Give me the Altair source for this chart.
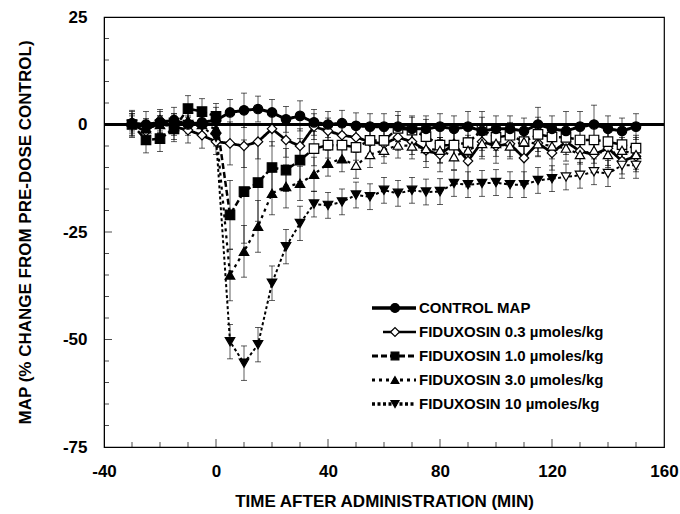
import altair as alt
import pandas as pd

times = list(range(-30, 155, 5))

series_names = [
    "CONTROL MAP",
    "FIDUXOSIN 0.3 µmoles/kg",
    "FIDUXOSIN 1.0 µmoles/kg",
    "FIDUXOSIN 3.0 µmoles/kg",
    "FIDUXOSIN 10 µmoles/kg",
]

control = [0.3, 0.0, 0.5, 1.0, 0.0, 0.5, 1.0,
           2.8, 3.3, 3.6, 2.8, 1.2, 2.0, 0.5, 0.0, 0.3, -0.3,
           -0.5, -0.5, -0.5, -1.0, -1.0, -0.5, -1.0, -0.5, -1.5, -1.0,
           -1.0, -1.5, 0.0, -1.0, -1.5, -0.5, 0.0, -1.0, -1.5, -0.5]
dose03 = [0.0, -1.6, 1.0, -0.5, -1.3, -2.5, -4.0,
          -4.4, -5.0, -4.0, -1.0, -3.6, -5.0, -0.5, -1.5, -2.5, -3.0,
          -4.0, -4.5, -3.0, -4.0, -6.0, -7.0, -4.5, -8.5, -4.0, -5.0,
          -4.5, -7.8, -4.3, -6.6, -4.0, -6.2, -7.0, -5.5, -8.5, -7.4]
dose10 = [0.0, -3.6, -3.3, -1.0, 3.7, 3.0, 1.9,
          -21.0, -15.6, -13.5, -10.0, -10.6, -8.3, -5.6, -4.8, -4.8, -5.3,
          -3.7, -3.7, -0.9, -1.3, -2.8, -4.8, -4.8, -4.2, -1.3, -3.0,
          -2.5, -4.0, -2.3, -2.9, -3.0, -3.6, -3.6, -4.0, -4.7, -5.5]
dose30 = [0.5, -1.0, 0.0, -0.5, 1.0, 0.0, -1.0,
          -35.0, -29.5, -23.7, -16.0, -14.4, -13.7, -11.6, -9.0, -8.0, -9.5,
          -7.0, -6.0, -4.8, -5.0, -5.6, -6.0, -7.5, -6.0, -4.4, -4.4,
          -5.0, -4.0, -4.5, -5.0, -5.5, -7.0, -6.0, -7.0, -6.0, -7.0]
dose100 = [0.0, -1.0, 0.0, 0.5, 0.0, -0.5, -3.0,
           -50.5, -55.5, -51.2, -36.9, -28.4, -23.0, -18.5, -18.8, -18.0, -16.4,
           -16.8, -15.3, -16.0, -15.3, -15.7, -15.6, -13.7, -14.0, -13.7, -13.5,
           -14.0, -14.0, -13.0, -12.6, -12.2, -11.8, -11.0, -11.4, -9.5, -9.5]

err_control = [3, 3, 2.5, 3, 2.5, 3, 3,
               3, 4, 3, 3, 3, 3.5, 3, 3, 3, 3,
               3, 3, 3.5, 3, 3, 3, 3, 3.5, 4.5, 3,
               3, 3, 4, 3, 4.5, 3.5, 4.5, 3, 3, 3]
err03 = [2.5, 3, 2.5, 3, 3, 3, 3,
         5, 5, 4, 4, 4, 4, 3, 3, 3, 3,
         3, 3, 3, 3, 4, 4, 3, 6, 4, 4,
         3, 6, 3, 4, 3, 3, 3, 4, 3, 3]
err10 = [3, 3, 3, 3, 3, 3, 3,
         8, 12, 9, 6, 5, 5, 4, 3, 3, 3,
         3, 3, 3, 3, 4, 4, 3, 3, 3, 3,
         3, 3, 4, 3, 3, 4, 3, 3, 3, 3]
err30 = [2, 2, 2, 2, 2, 2, 2,
         6, 6, 6, 5, 5, 4, 4, 3, 3, 3,
         3, 3, 3, 3, 3, 3, 3, 3, 3, 3,
         3, 3, 3, 3, 3, 4, 3, 3, 3, 4]
err100 = [2, 2, 2, 2, 2, 2, 2,
          4, 4, 4, 4, 4, 4, 3, 3, 3, 3,
          3, 3, 3, 3, 3, 3, 3, 3, 3, 3,
          3, 3, 3, 3, 3, 3, 3, 3, 3, 3]

values = [control, dose03, dose10, dose30, dose100]
errors = [err_control, err03, err10, err30, err100]

# styling (not data)
shapes = ["circle", "diamond", "square", "triangle-up", "triangle-down"]
dashes = [[1, 0], [1, 0], [6, 3], [3, 4], [3, 2.5]]
widths = [3, 2, 2.5, 2.5, 3]
sizes = [90, 90, 70, 70, 75]
open_from = {series_names[0]: 999, series_names[1]: -999, series_names[2]: 35,
             series_names[3]: 50, series_names[4]: 125}

rows = []
for name, vals, errs in zip(series_names, values, errors):
    for t, v, e in zip(times, vals, errs):
        rows.append({"series": name, "time": t, "value": v, "lo": v - e, "hi": v + e,
                     "fillc": "white" if t >= open_from[name] else "black"})
df = pd.DataFrame(rows)
df_markers = pd.concat([df[df.series != series_names[0]], df[df.series == series_names[0]]])

FONT = "Liberation Sans"
W, H = 560, 430

xscale = alt.Scale(domain=[-40, 160], nice=False)
yscale = alt.Scale(domain=[-75, 25], nice=False)

xaxis = alt.Axis(values=[-40, 0, 40, 80, 120, 160], title="TIME AFTER ADMINISTRATION (MIN)",
                 labelExpr="'' + datum.value",
                 ticks=False, grid=False, labelFlush=False, labelPadding=16, titlePadding=14,
                 labelFont=FONT, labelFontSize=17, labelFontWeight="bold",
                 titleFont=FONT, titleFontSize=17, titleFontWeight="bold",
                 labelColor="black", titleColor="black", domainColor="black")
yaxis = alt.Axis(values=[25, 0, -25, -50, -75], title="MAP (% CHANGE FROM PRE-DOSE CONTROL)",
                 labelExpr="'' + datum.value",
                 ticks=False, grid=False, labelFlush=False, labelPadding=17, titlePadding=28,
                 labelFont=FONT, labelFontSize=17, labelFontWeight="bold",
                 titleFont=FONT, titleFontSize=17, titleFontWeight="bold",
                 labelColor="black", titleColor="black", domainColor="black")

base = alt.Chart(df)

lines = base.mark_line(color="black").encode(
    x=alt.X("time:Q", scale=xscale, axis=xaxis),
    y=alt.Y("value:Q", scale=yscale, axis=yaxis),
    strokeDash=alt.StrokeDash("series:N", scale=alt.Scale(domain=series_names, range=dashes), legend=None),
    strokeWidth=alt.StrokeWidth("series:N", scale=alt.Scale(domain=series_names, range=widths), legend=None),
    order="time:Q",
)

bars = base.mark_rule(color="black", strokeWidth=0.8, opacity=0.8).encode(
    x="time:Q", y="lo:Q", y2="hi:Q")
cap_lo = base.mark_tick(orient="horizontal", color="black", size=6, thickness=0.8, opacity=0.8).encode(
    x="time:Q", y="lo:Q")
cap_hi = base.mark_tick(orient="horizontal", color="black", size=6, thickness=0.8, opacity=0.8).encode(
    x="time:Q", y="hi:Q")

markers = alt.Chart(df_markers).mark_point(filled=True, stroke="black", strokeWidth=1.2, opacity=1).encode(
    x="time:Q", y="value:Q",
    fill=alt.Fill("fillc:N", scale=None),
    shape=alt.Shape("series:N", scale=alt.Scale(domain=series_names, range=shapes), legend=None),
    size=alt.Size("series:N", scale=alt.Scale(domain=series_names, range=sizes), legend=None),
)

zero = alt.Chart(pd.DataFrame({"y": [0]})).mark_rule(color="black", strokeWidth=2.8).encode(y="y:Q")

# inward axis ticks
xt = pd.DataFrame({"t": list(range(-30, 160, 10))})
xt["major"] = xt.t % 40 == 0
yt = pd.DataFrame({"v": list(range(-70, 25, 5))})
yt["major"] = yt.v % 25 == 0
xticks_minor = alt.Chart(xt[~xt.major]).mark_tick(orient="vertical", color="black", size=5, thickness=1).encode(
    x="t:Q", y=alt.value(H - 2.5))
xticks_major = alt.Chart(xt[xt.major]).mark_tick(orient="vertical", color="black", size=8, thickness=1).encode(
    x="t:Q", y=alt.value(H - 4))
yticks_minor = alt.Chart(yt[~yt.major]).mark_tick(orient="horizontal", color="black", size=5, thickness=1).encode(
    y="v:Q", x=alt.value(2.5))
yticks_major = alt.Chart(yt[yt.major]).mark_tick(orient="horizontal", color="black", size=8, thickness=1).encode(
    y="v:Q", x=alt.value(4))

# manual legend
legend_layers = []
for i, name in enumerate(series_names):
    ly = 291 + 24 * i
    d = pd.DataFrame({"label": [name]})
    legend_layers.append(alt.Chart(d).mark_rule(color="black", strokeWidth=widths[i] + 0.3,
                                                  strokeDash=dashes[i]).encode(
        x=alt.value(268 if i != 1 else 279), x2=alt.value(312), y=alt.value(ly)))
    legend_layers.append(alt.Chart(d).mark_point(shape=shapes[i], filled=True, size=sizes[i] - 10,
                                                   fill="white" if i == 1 else "black",
                                                   stroke="black", strokeWidth=1.2, opacity=1).encode(
        x=alt.value(291), y=alt.value(ly)))
    legend_layers.append(alt.Chart(d).mark_text(align="left", baseline="middle", font=FONT, fontSize=15,
                                                  fontWeight="bold", color="black").encode(
        x=alt.value(315), y=alt.value(ly), text="label:N"))

chart = alt.layer(
    lines, bars, cap_lo, cap_hi, zero, markers,
    xticks_minor, xticks_major, yticks_minor, yticks_major,
    *legend_layers
).properties(
    width=W, height=H,
    autosize=alt.AutoSizeParams(type="none"),
    padding={"left": 104, "top": 17, "right": 16, "bottom": 67},
    background="white",
).configure_view(stroke="black", strokeWidth=1.2)

chart.save("out.html", embed_options={"renderer": "svg", "actions": False})
